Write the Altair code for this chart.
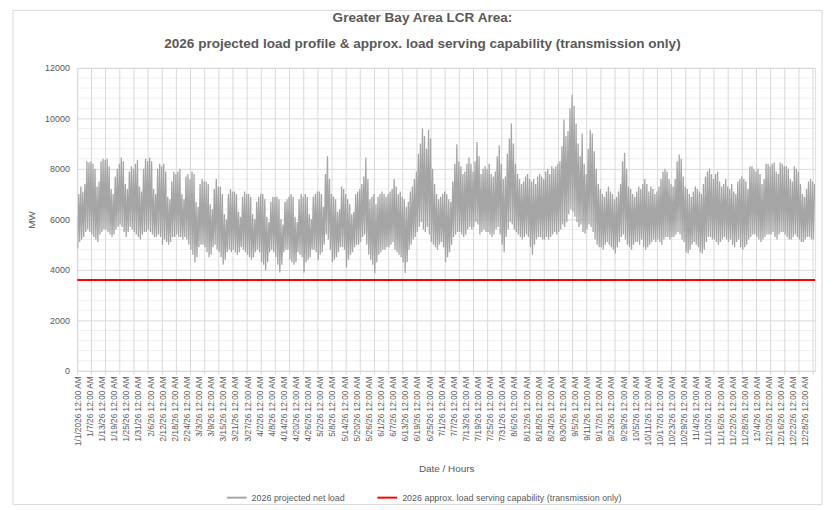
import altair as alt
import pandas as pd

TITLE_LINES = [
    "Greater Bay Area LCR Area:",
    "2026 projected load profile & approx. load serving capability (transmission only)",
]
SERIES = [
    "2026 projected net load",
    "2026 approx. load serving  capability (transmission only)",
]
Y_TITLE = "MW"
X_TITLE = "Date / Hours"

# category labels printed along the x axis (one every 144 hourly points)
X_TICK_DATES = [
    "1/1/2026", "1/7/26", "1/13/26", "1/19/26", "1/25/26", "1/31/26", "2/6/26", "2/12/26",
    "2/18/26", "2/24/26", "3/3/26", "3/9/26", "3/15/26", "3/21/26", "3/27/26", "4/2/26",
    "4/8/26", "4/14/26", "4/20/26", "4/26/26", "5/2/26", "5/8/26", "5/14/26", "5/20/26",
    "5/26/26", "6/1/26", "6/7/26", "6/13/26", "6/19/26", "6/25/26", "7/1/26", "7/7/26",
    "7/13/26", "7/19/26", "7/25/26", "7/31/26", "8/6/26", "8/12/26", "8/18/26", "8/24/26",
    "8/30/26", "9/5/26", "9/11/26", "9/17/26", "9/23/26", "9/29/26", "10/5/26", "10/11/26",
    "10/17/26", "10/23/26", "10/29/26", "11/4/26", "11/10/26", "11/16/26", "11/22/26",
    "11/28/26", "12/4/26", "12/10/26", "12/16/26", "12/22/26", "12/28/26",
]
X_TICK_TIME = "12:00 AM"

# Daily high (evening peak) of projected net load, MW, one value per day of 2026
DAILY_HIGH = [
    7000, 7300, 7100, 7400, 8300, 8250, 8300,
    8200, 8000, 7300, 7500, 8300, 8400, 8350,
    8400, 8100, 7200, 7000, 7700, 8000, 8200,
    8450, 8300, 7400, 7200, 7900, 8100, 8000,
    8200, 8350, 7300, 7100, 8000, 8400, 8300,
    8450, 8300, 7200, 7000, 8000, 8200, 8100,
    8200, 7900, 6900, 6800, 7500, 7900, 7800,
    7900, 8000, 7000, 6800, 7700, 7800, 7600,
    7900, 7800, 6700, 6500, 7400, 7600, 7500,
    7500, 7400, 6600, 6400, 7200, 7600, 7300,
    7300, 7000, 6200, 6000, 7000, 7200, 7100,
    7100, 7000, 6300, 6100, 6900, 7100, 7000,
    7000, 6900, 6200, 6000, 6700, 6900, 7000,
    7000, 6800, 6100, 5900, 6700, 6900, 6900,
    6900, 6800, 6000, 5800, 6700, 6800, 6900,
    7000, 6900, 6100, 5900, 6800, 7000, 6900,
    7000, 6900, 6200, 6000, 6900, 7000, 7100,
    7100, 7000, 6500, 7800, 8500, 7600, 7000,
    6900, 6800, 6300, 6400, 7300, 7200, 7000,
    6800, 6600, 6200, 6300, 7000, 7100, 7200,
    7400, 7700, 8450, 7600, 6800, 6900, 7000,
    6600, 6900, 7000, 7100, 7000, 6900, 7000,
    7100, 7200, 7600, 7300, 7000, 7100, 6900,
    6800, 6500, 6700, 7100, 7300, 7600, 7900,
    8600, 9000, 9600, 9300, 8800, 9550, 9200,
    8000, 7400, 7000, 6800, 6900, 7000, 7100,
    7000, 6800, 6700, 7500, 8200, 8970, 8300,
    8100, 7800, 7900, 8200, 8450, 8200, 7900,
    8300, 9060, 8500, 7800, 8000, 8100, 8000,
    8200, 7800, 7700, 7900, 8500, 8930, 8200,
    7600, 7700, 8600, 9200, 9800, 9000, 8200,
    7800, 7600, 7400, 7500, 7700, 7800, 7600,
    7500, 7600, 7400, 7700, 7800, 7700, 7600,
    7900, 8000, 7800, 8100, 8000, 8100, 8200,
    8300, 8900, 9950, 9300, 9500, 10400, 10930,
    10500, 9800, 9000, 8500, 9400, 8200, 7800,
    8800, 9550, 9400, 8700, 8000, 7400, 7200,
    7000, 6900, 7100, 7300, 7100, 7000, 6800,
    6900, 7100, 7400, 8300, 8640, 8000, 7300,
    7200, 7000, 6900, 7100, 7300, 7200, 7400,
    7600, 7400, 7100, 7300, 7200, 7000, 7100,
    7300, 7600, 7900, 8000, 7900, 7600, 7400,
    7300, 7600, 8300, 8570, 8400, 7700, 7300,
    7200, 7000, 6900, 7100, 7300, 7200, 7100,
    7000, 7400, 7700, 7900, 8000, 7800, 7600,
    7800, 7900, 7500, 7300, 7400, 7600, 7300,
    7200, 7400, 7100, 7000, 7500, 7600, 7700,
    7600, 7500, 7200, 8100, 8100, 8000, 7900,
    8000, 7800, 7400, 7600, 8200, 8200, 8100,
    8200, 8250, 7900, 7800, 8250, 8200, 8100,
    8100, 8000, 7600, 7500, 8100, 8000, 7900,
    7400, 7000, 6900, 7200, 7500, 7600, 7500,
    7400,
]

# Daily low (trough) of projected net load, MW
DAILY_LOW = [
    4850, 5100, 5200, 5300, 5500, 5600, 5500,
    5400, 5300, 5200, 5100, 5400, 5500, 5600,
    5600, 5500, 5400, 5300, 5400, 5600, 5700,
    5800, 5700, 5500, 5300, 5500, 5700, 5600,
    5500, 5400, 5300, 5200, 5400, 5500, 5500,
    5600, 5500, 5400, 5300, 5300, 5400, 5300,
    5000, 5200, 5100, 5000, 5100, 5300, 5300,
    5400, 5300, 5300, 5200, 5300, 5200, 5000,
    4800, 4600, 4300, 4500, 4900, 5000, 5000,
    4900, 4700, 4500, 4600, 4900, 5000, 4800,
    4700, 4500, 4200, 4400, 4700, 4800, 4700,
    4800, 4700, 4600, 4700, 4900, 4800, 4700,
    4600, 4500, 4400, 4500, 4700, 4800, 4700,
    4300, 4200, 4000, 4300, 4700, 4800, 4700,
    4500, 4200, 3900, 4200, 4700, 4800, 4800,
    4400, 4300, 4200, 4300, 4700, 4600, 4500,
    3900, 4300, 4400, 4500, 4800, 4800, 4700,
    4400, 4600, 4700, 5000, 5400, 5200, 4800,
    4300, 4400, 4500, 4700, 4900, 4900, 4800,
    4100, 4400, 4600, 4700, 4900, 5000, 5000,
    5100, 5300, 5400, 5000, 4600, 4400, 4200,
    3870, 4300, 4600, 4700, 4800, 4800, 4900,
    4900, 5000, 5100, 4800, 4700, 4600, 4500,
    4300, 3870, 4300, 4800, 5000, 5200, 5300,
    5500, 5700, 5900, 5600, 5500, 5700, 5400,
    5100, 5000, 4900, 4800, 5000, 5100, 4900,
    4300, 4500, 4700, 5000, 5300, 5400, 5500,
    5500, 5400, 5300, 5400, 5600, 5700, 5600,
    5700, 5900, 5800, 5400, 5500, 5600, 5500,
    5500, 5400, 5300, 5400, 5600, 5700, 5400,
    5000, 4700, 5300, 5600, 5900, 5800, 5600,
    5500, 5400, 5300, 5200, 5300, 5400, 5300,
    4900, 4600, 5000, 5200, 5300, 5300, 5200,
    5200, 5300, 5200, 5300, 5400, 5500, 5400,
    5500, 5600, 5800, 5700, 5900, 6200, 6400,
    6300, 6100, 5900, 5700, 5800, 5500, 5440,
    5600, 5800, 5700, 5500, 5200, 5000, 4900,
    4900, 4800, 5000, 5100, 5000, 4900, 4800,
    4650, 4900, 5100, 5300, 5400, 5200, 5000,
    4900, 4800, 5000, 5100, 5100, 5000, 5200,
    4900, 4800, 4900, 5000, 5100, 5200, 5100,
    5200, 5100, 5000, 5200, 5300, 5300, 5200,
    5300, 5300, 5400, 5500, 5400, 5200, 5100,
    4700, 4650, 4800, 5000, 5100, 5000, 4900,
    4700, 4650, 4800, 5100, 5300, 5300, 5200,
    5200, 5100, 5000, 5100, 5200, 5300, 5200,
    5100, 5200, 5000, 4900, 5100, 5200, 4900,
    4800, 4900, 5000, 5200, 5300, 5400, 5400,
    5300, 5200, 5100, 5200, 5300, 5400, 5400,
    5400, 5500, 5300, 5200, 5400, 5500, 5500,
    5400, 5300, 5200, 5200, 5300, 5400, 5300,
    5200, 5100, 5100, 5200, 5300, 5300, 5200,
    5200,
]

CAPABILITY_MW = 3600
HOURS_IN_YEAR = 8760
Y_TICKS = [0, 2000, 4000, 6000, 8000, 10000, 12000]

LABEL_STEP = 144   # hourly points between category labels
GRID_STEP = 168    # hourly points between vertical gridlines / tick marks
LABEL_HOURS = [i * LABEL_STEP for i in range(len(X_TICK_DATES))]
GRID_HOURS = list(range(0, HOURS_IN_YEAR, GRID_STEP))
MINOR_MW = [v for v in range(400, 12000, 400) if v % 2000]

W, H = 745, 306
TEXT = "#595959"
GRID = "#d9d9d9"
FONT = "Liberation Sans"

rows = []
for d, (lo, hi) in enumerate(zip(DAILY_LOW, DAILY_HIGH)):
    rows.append({"hour": d * 24 + 4, "MW": lo})
    rows.append({"hour": d * 24 + 18, "MW": hi})
load_df = pd.DataFrame(rows)
load_df["series"] = SERIES[0]

cap_df = pd.DataFrame({"hour": [0, HOURS_IN_YEAR], "MW": [CAPABILITY_MW] * 2, "series": SERIES[1]})

xscale = alt.Scale(domain=[0, HOURS_IN_YEAR], nice=False, zero=False)
yscale = alt.Scale(domain=[0, 12000], nice=False)

labels_js = "[" + ", ".join("'%s %s'" % (d, X_TICK_TIME) for d in X_TICK_DATES) + "]"
label_expr = "%s[round(datum.value / %d)]" % (labels_js, LABEL_STEP)

x_enc = alt.X(
    "hour:Q",
    scale=xscale,
    axis=alt.Axis(
        values=LABEL_HOURS,
        labelExpr=label_expr,
        labelAngle=-90,
        labelFontSize=8.4,
        labelColor=TEXT,
        labelFont=FONT,
        labelPadding=5,
        labelOverlap=False,
        labelBound=False,
        labelFlush=False,
        grid=False,
        ticks=False,
        domainColor=GRID,
        title=X_TITLE,
        titleFont=FONT,
        titleFontSize=10,
        titleFontWeight="normal",
        titleColor=TEXT,
        titlePadding=18,
    ),
)
y_enc = alt.Y(
    "MW:Q",
    scale=yscale,
    axis=alt.Axis(
        values=Y_TICKS,
        format="d",
        labelFontSize=9,
        labelColor=TEXT,
        labelFont=FONT,
        labelPadding=8,
        grid=True,
        gridColor=GRID,
        ticks=False,
        domain=False,
        title=Y_TITLE,
        titleFont=FONT,
        titleFontSize=10,
        titleFontWeight="normal",
        titleColor=TEXT,
        titlePadding=8,
    ),
)

color = alt.Color(
    "series:N",
    scale=alt.Scale(domain=SERIES, range=["#a5a5a5", "#ff0000"]),
    legend=alt.Legend(
        title=None,
        orient="none",
        legendX=150,
        legendY=423,
        direction="horizontal",
        symbolType="stroke",
        symbolSize=400,
        symbolStrokeWidth=2,
        labelFont=FONT,
        labelFontSize=9,
        labelColor=TEXT,
        labelOffset=4,
        labelLimit=500,
        columnPadding=28,
    ),
)

border = alt.Chart(pd.DataFrame({"k": [0]})).mark_rect(
    fillOpacity=0, stroke=GRID, strokeWidth=1
).encode(
    x=alt.value(-65), x2=alt.value(752), y=alt.value(-58), y2=alt.value(441)
)

minor = alt.Chart(pd.DataFrame({"MW": MINOR_MW})).mark_rule(
    color="#efefef", strokeWidth=1
).encode(y=y_enc, x=alt.value(0), x2=alt.value(W))

vgrid = alt.Chart(pd.DataFrame({"hour": GRID_HOURS})).mark_rule(
    color=GRID, strokeWidth=1
).encode(x=x_enc, y=alt.value(0), y2=alt.value(H + 4))

load = alt.Chart(load_df).mark_line(strokeWidth=1.3, clip=True).encode(
    x=x_enc, y=y_enc, color=color
)

cap = alt.Chart(cap_df).mark_line(strokeWidth=2).encode(
    x=x_enc, y=y_enc, color=color
)

chart = (
    alt.layer(border, minor, vgrid, load, cap)
    .properties(
        width=W,
        height=H,
        title=alt.TitleParams(
            text=TITLE_LINES,
            font=FONT,
            fontSize=13.7,
            fontWeight="bold",
            color=TEXT,
            anchor="middle",
            lineHeight=26,
            offset=0,
            dy=41,
            dx=-24,
        ),
        autosize=alt.AutoSizeParams(type="none"),
        padding={"left": 70, "top": 58, "right": 12, "bottom": 136},
    )
    .configure_view(strokeWidth=0)
    .configure(background="white")
)

chart.save("out.html", embed_options={"renderer": "svg", "actions": False})
